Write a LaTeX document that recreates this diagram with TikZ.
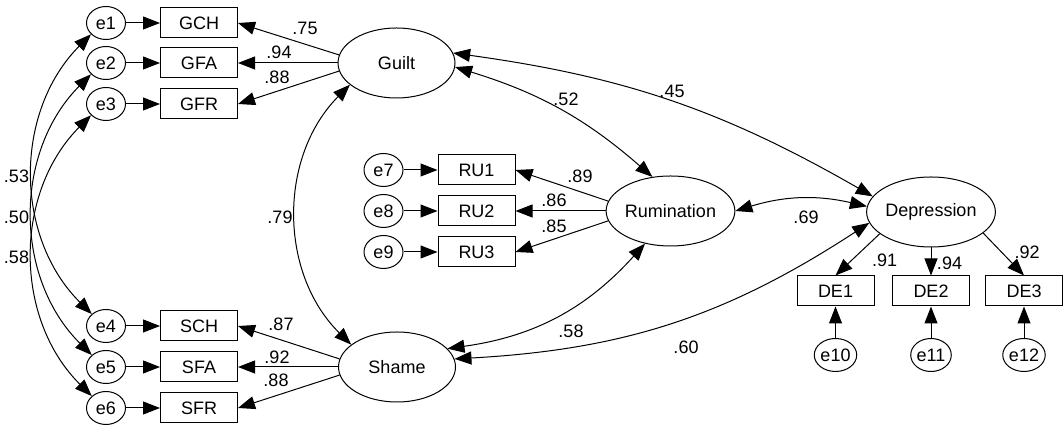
\documentclass[tikz,border=0pt]{standalone}
\usepackage{fontspec}
\setmainfont{Liberation Sans}
\usetikzlibrary{shapes.geometric,arrows.meta}

\begin{document}
\begin{tikzpicture}[x=1pt,y=1pt,
  font=\fontsize{18}{21}\selectfont,
  line width=1pt,
  >={Triangle[length=17pt,width=13pt]},
  oneway/.style={->},
  twoway/.style={<->},
  latent/.style={draw,ellipse,minimum width=117pt,minimum height=70pt,inner sep=0pt},
  errterm/.style={draw,ellipse,minimum width=39pt,minimum height=33pt,inner sep=0pt},
  indic/.style={draw,rectangle,minimum width=77pt,minimum height=30pt,inner sep=0pt},
  coef/.style={inner sep=0pt}]

\useasboundingbox (0,0) rectangle (1063,430);

% latent variables
\node[latent] (guilt) at (396.5,367) {Guilt};
\node[latent] (shame) at (397,63) {Shame};
\node[latent] (rum)   at (670.5,219) {Rumination};
\node[latent] (dep)   at (931,218) {Depression};

% guilt indicators
\node[indic] (gch) at (199,407) {GCH};
\node[indic] (gfa) at (199,367) {GFA};
\node[indic] (gfr) at (199,326) {GFR};
\node[errterm] (e1) at (106,407) {e1};
\node[errterm] (e2) at (106,367) {e2};
\node[errterm] (e3) at (106,326) {e3};

% shame indicators
\node[indic] (sch) at (199,104) {SCH};
\node[indic] (sfa) at (199,63) {SFA};
\node[indic] (sfr) at (199,22) {SFR};
\node[errterm] (e4) at (106,104) {e4};
\node[errterm] (e5) at (106,63) {e5};
\node[errterm] (e6) at (106,22) {e6};

% rumination indicators
\node[indic] (ru1) at (476.5,260) {RU1};
\node[indic] (ru2) at (476.5,219) {RU2};
\node[indic] (ru3) at (476.5,178) {RU3};
\node[errterm] (e7) at (383.5,260) {e7};
\node[errterm] (e8) at (383.5,219) {e8};
\node[errterm] (e9) at (383.5,178) {e9};

% depression indicators
\node[indic] (de1) at (835.5,139) {DE1};
\node[indic] (de2) at (931,139) {DE2};
\node[indic] (de3) at (1024,139) {DE3};
\node[errterm] (e10) at (835.5,75) {e10};
\node[errterm] (e11) at (931,75) {e11};
\node[errterm] (e12) at (1024,75) {e12};

% error terms to indicators
\foreach \e/\v in {e1/gch,e2/gfa,e3/gfr,e4/sch,e5/sfa,e6/sfr,e7/ru1,e8/ru2,e9/ru3,e10/de1,e11/de2,e12/de3}
  \draw[oneway] (\e) -- (\v);

% loadings
\draw[oneway] (guilt.172) -- (gch.east);
\draw[oneway] (guilt.west) -- (gfa.east);
\draw[oneway] (guilt.188) -- (gfr.east);
\draw[oneway] (shame.172) -- (sch.east);
\draw[oneway] (shame.west) -- (sfa.east);
\draw[oneway] (shame.188) -- (sfr.east);
\draw[oneway] (rum.171) -- (ru1.east);
\draw[oneway] (rum.west) -- (ru2.east);
\draw[oneway] (rum.189) -- (ru3.east);
\draw[oneway] (dep.203) -- (de1.north);
\draw[oneway] (dep.south) -- (de2.north);
\draw[oneway] (dep.-22) -- (de3.north);

% correlations among latent variables
\draw[twoway] (guilt.10) to[bend left=11] (dep.165);
\draw[twoway] (guilt.-4) to[bend left=12] (rum.118);
\draw[twoway] (guilt.205) to[bend right=45] (shame.154);
\draw[twoway] (rum.0) to[bend left=15] (dep.175);
\draw[twoway] (rum.232) to[bend left=20] (shame.20);
\draw[twoway] (dep.190) to[bend left=15] (shame.8);

% correlated errors
\draw[twoway] (e1.217) to[bend right=45] (e4.140);
\draw[twoway] (e2.217) to[bend right=45] (e5.140);
\draw[twoway] (e3.217) to[bend right=45] (e6.140);

% coefficients
\node[coef] (l75)  at (305,402)   {.75};
\node[coef] (l94a) at (279,378)   {.94};
\node[coef] (l88a) at (277,353)   {.88};
\node[coef] (l87)  at (281,105.5) {.87};
\node[coef] (l92a) at (277,73)    {.92};
\node[coef] (l88b) at (276,49.5)  {.88};
\node[coef] (l89)  at (580,254)   {.89};
\node[coef] (l86)  at (554,230)   {.86};
\node[coef] (l85)  at (554,203.3) {.85};
\node[coef] (l91)  at (884.7,169.7) {.91};
\node[coef] (l94b) at (949.5,167) {.94};
\node[coef] (l92b) at (1027,178)  {.92};
\node[coef] (l79)  at (280,212.5) {.79};
\node[coef] (l53)  at (16.5,254)  {.53};
\node[coef] (l50)  at (16.5,212.5) {.50};
\node[coef] (l58a) at (16.5,172.5) {.58};
\node[coef] (l58b) at (571,99)    {.58};
\node[coef] (l60)  at (686,83)    {.60};
\node[coef] (l45)  at (672,339)   {.45};
\node[coef] (l52)  at (566,331)   {.52};
\node[coef] (l69)  at (806,213)   {.69};

\end{tikzpicture}
\end{document}
